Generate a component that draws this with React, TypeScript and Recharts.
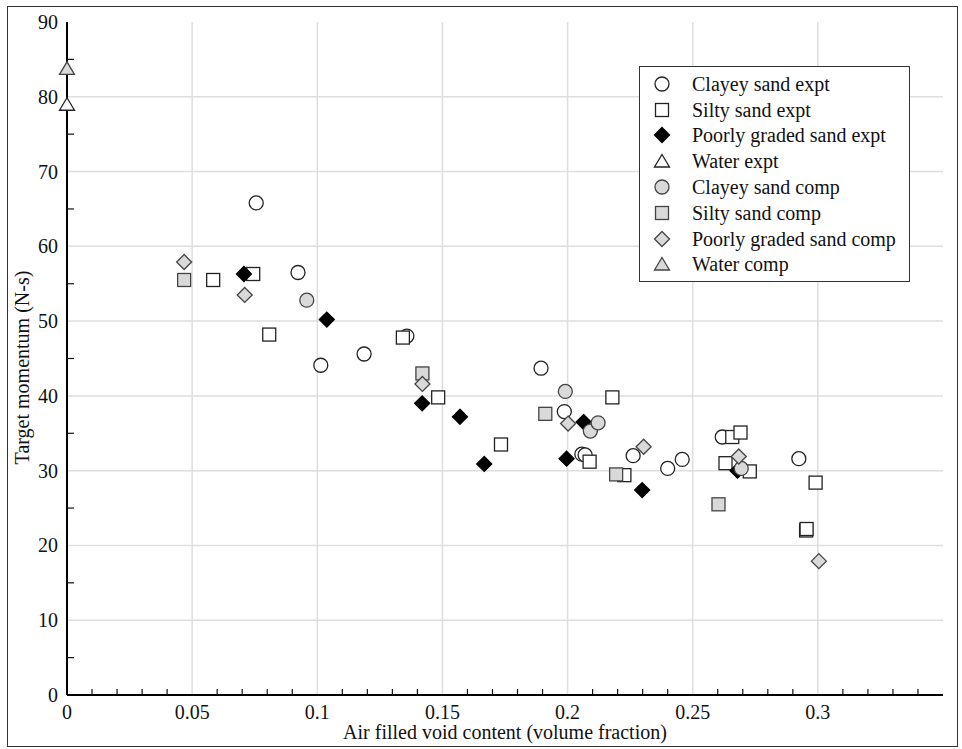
import React from 'react';
import { ScatterChart, Scatter, XAxis, YAxis, ReferenceLine, Legend } from 'recharts';

// [void fraction, momentum N-s]
const clayeyExpt = [
  [0.0756, 65.8], [0.0923, 56.5], [0.1014, 44.1], [0.1187, 45.6], [0.1358, 48.0],
  [0.1894, 43.7], [0.1987, 37.9], [0.2057, 32.2], [0.207, 32.1], [0.2262, 32.0],
  [0.24, 30.3], [0.2458, 31.5], [0.2618, 34.5], [0.2924, 31.6],
];
const siltyExpt = [
  [0.0584, 55.5], [0.0744, 56.3], [0.0808, 48.2], [0.1342, 47.8], [0.1483, 39.8],
  [0.1734, 33.5], [0.2088, 31.2], [0.2179, 39.8], [0.2227, 29.4], [0.2631, 31.0],
  [0.2658, 34.5], [0.2691, 35.1], [0.2728, 29.9], [0.2953, 22.0], [0.2955, 22.2],
  [0.2991, 28.4],
];
const poorlyExpt = [
  [0.0707, 56.3], [0.1038, 50.2], [0.1419, 39.0], [0.157, 37.2], [0.1667, 30.9],
  [0.1996, 31.6], [0.2064, 36.5], [0.2298, 27.4], [0.2679, 30.0],
];
const waterExpt = [[0, 79.0]];
const clayeyComp = [[0.0958, 52.8], [0.1991, 40.6], [0.2091, 35.3], [0.2122, 36.4], [0.2694, 30.3]];
const siltyComp = [[0.0468, 55.5], [0.142, 43.0], [0.1911, 37.6], [0.2194, 29.5], [0.2603, 25.5]];
const poorlyComp = [
  [0.0468, 57.9], [0.071, 53.5], [0.142, 41.6], [0.2002, 36.3], [0.2304, 33.2],
  [0.2684, 31.9], [0.3004, 17.9],
];
const waterComp = [[0, 83.8]];

// axis ticks
const xLabelTicks = [0, 0.05, 0.1, 0.15, 0.2, 0.25, 0.3];
const xMinorTicks = Array.from({ length: 35 }, (_, i) => i / 100);
const yLabelTicks = [0, 10, 20, 30, 40, 50, 60, 70, 80, 90];
const yMinorTicks = [5, 15, 25, 35, 45, 55, 65, 75, 85];
const xGrid = [0.05, 0.1, 0.15, 0.2, 0.25, 0.3];
const yGrid = [10, 20, 30, 40, 50, 60, 70, 80];

const FONT = '"Liberation Serif", "Times New Roman", serif';
const GRID = '#dedede';
const EXPT_FILL = '#ffffff';
const COMP_FILL = '#d9d9d9';

type Kind = 'circle' | 'square' | 'diamond' | 'triangle';

const series: { name: string; data: number[][]; kind: Kind; fill: string; stroke: string }[] = [
  { name: 'Clayey sand expt', data: clayeyExpt, kind: 'circle', fill: EXPT_FILL, stroke: '#222' },
  { name: 'Silty sand expt', data: siltyExpt, kind: 'square', fill: EXPT_FILL, stroke: '#222' },
  { name: 'Poorly graded sand expt', data: poorlyExpt, kind: 'diamond', fill: '#000', stroke: '#000' },
  { name: 'Water expt', data: waterExpt, kind: 'triangle', fill: EXPT_FILL, stroke: '#222' },
  { name: 'Clayey sand comp', data: clayeyComp, kind: 'circle', fill: COMP_FILL, stroke: '#444' },
  { name: 'Silty sand comp', data: siltyComp, kind: 'square', fill: COMP_FILL, stroke: '#444' },
  { name: 'Poorly graded sand comp', data: poorlyComp, kind: 'diamond', fill: COMP_FILL, stroke: '#444' },
  { name: 'Water comp', data: waterComp, kind: 'triangle', fill: COMP_FILL, stroke: '#444' },
];

const Marker = ({ kind, cx, cy, fill, stroke }: { kind: Kind; cx: number; cy: number; fill: string; stroke: string }) => {
  const common = { fill, stroke, strokeWidth: 1.3 };
  if (kind === 'circle') return <circle cx={cx} cy={cy} r={7} {...common} />;
  if (kind === 'square') return <rect x={cx - 6.5} y={cy - 6.5} width={13} height={13} {...common} />;
  if (kind === 'diamond') {
    const d = 7.5;
    return <polygon points={`${cx},${cy - d} ${cx + d},${cy} ${cx},${cy + d} ${cx - d},${cy}`} {...common} />;
  }
  return <polygon points={`${cx},${cy - 6.5} ${cx + 7.5},${cy + 6} ${cx - 7.5},${cy + 6}`} {...common} />;
};

const isFive = (v: number) => Math.round(v * 100) % 5 === 0;

// bottom axis: labels at 0.05 steps, inward ticks elsewhere
const BottomTick = (props: any) => {
  const { x, y, payload } = props;
  const v = payload.value;
  if (isFive(v)) {
    if (!xLabelTicks.includes(v)) return <g />;
    return (
      <text x={x} y={y + 17} dy="0.35em" textAnchor="middle" fontSize={20} fontFamily={FONT} fill="#111">
        {String(v)}
      </text>
    );
  }
  return <line x1={x} x2={x} y1={y} y2={y - 6} stroke="#111" strokeWidth={1.2} />;
};

const TopTick = (props: any) => {
  const { x, y, payload } = props;
  if (isFive(payload.value)) return <g />;
  return <line x1={x} x2={x} y1={y} y2={y + 6} stroke="#111" strokeWidth={1.2} />;
};

const LeftTick = (props: any) => {
  const { x, y, payload } = props;
  const v = payload.value;
  if (v % 10 === 0) {
    return (
      <text x={x - 9} y={y} dy="0.35em" textAnchor="end" fontSize={20} fontFamily={FONT} fill="#111">
        {v}
      </text>
    );
  }
  return <line x1={x} x2={x + 7} y1={y} y2={y} stroke="#111" strokeWidth={1.2} />;
};

const RightTick = (props: any) => {
  const { x, y } = props;
  return <line x1={x} x2={x - 6} y1={y} y2={y} stroke="#111" strokeWidth={1.2} />;
};

const YTitle = (props: any) => {
  const { viewBox } = props;
  const cx = 14;
  const cy = viewBox.y + viewBox.height / 2 + 9;
  return (
    <text x={cx} y={cy} transform={`rotate(-90, ${cx}, ${cy})`} dy="0.35em" textAnchor="middle"
      fontSize={20} fontFamily={FONT} fill="#111">
      Target momentum (N-s)
    </text>
  );
};

const LegendBox = () => (
  <div style={{ border: '1px solid #333', background: '#fff', padding: '4px 0', fontFamily: FONT, fontSize: 20, color: '#111' }}>
    {series.map((s) => (
      <div key={s.name} style={{ display: 'flex', alignItems: 'center', height: 25.8, whiteSpace: 'nowrap' }}>
        <svg width={44} height={22} style={{ flex: 'none' }}>
          <Marker kind={s.kind} cx={22} cy={11} fill={s.fill} stroke={s.stroke} />
        </svg>
        <span style={{ marginLeft: 8, lineHeight: '22px' }}>{s.name}</span>
      </div>
    ))}
  </div>
);

export default function App() {
  return (
    <div style={{ position: 'absolute', left: 7, top: 6, width: 951, height: 741, boxSizing: 'border-box', border: '1px solid #333', background: '#fff' }}>
      <ScatterChart width={949} height={739} margin={{ top: 15, right: 14, bottom: 3, left: 7 }} style={{ fontFamily: FONT }}>
        <XAxis type="number" dataKey="x" domain={[0, 0.35]} ticks={xMinorTicks} interval={0}
          tick={BottomTick} tickLine={false} tickSize={0} tickMargin={0} height={48}
          axisLine={{ stroke: '#000', strokeWidth: 2 }}
          label={{ value: 'Air filled void content (volume fraction)', position: 'insideBottom', offset: 4, fontSize: 20, fontFamily: FONT, fill: '#111' }} />
        <XAxis xAxisId="t" orientation="top" type="number" domain={[0, 0.35]} ticks={xMinorTicks} interval={0}
          tick={TopTick} tickLine={false} tickSize={0} tickMargin={0} height={0}
          axisLine={{ stroke: '#555', strokeWidth: 1 }} />
        <YAxis type="number" dataKey="y" domain={[0, 90]} ticks={[...yLabelTicks, ...yMinorTicks].sort((a, b) => a - b)} interval={0}
          tick={LeftTick} tickLine={false} tickSize={0} tickMargin={0} width={52}
          axisLine={{ stroke: '#000', strokeWidth: 2 }}
          label={{ content: YTitle }} />
        <YAxis yAxisId="r" orientation="right" type="number" domain={[0, 90]} ticks={yMinorTicks} interval={0}
          tick={RightTick} tickLine={false} tickSize={0} tickMargin={0} width={0}
          axisLine={{ stroke: '#555', strokeWidth: 1 }} />
        {xGrid.map((v) => (
          <ReferenceLine key={`gx${v}`} x={v} stroke={GRID} strokeWidth={1.5} />
        ))}
        {yGrid.map((v) => (
          <ReferenceLine key={`gy${v}`} y={v} stroke={GRID} strokeWidth={1.5} />
        ))}
        {series.map((s) => (
          <Scatter key={s.name} name={s.name} data={s.data.map(([x, y]) => ({ x, y }))} isAnimationActive={false}
            shape={(p: any) => <Marker kind={s.kind} cx={p.cx} cy={p.cy} fill={s.fill} stroke={s.stroke} />} />
        ))}
        <Legend layout="vertical" align="center" verticalAlign="middle" content={() => <LegendBox />}
          wrapperStyle={{ left: 631, top: 59, width: 271 }} />
      </ScatterChart>
    </div>
  );
}
